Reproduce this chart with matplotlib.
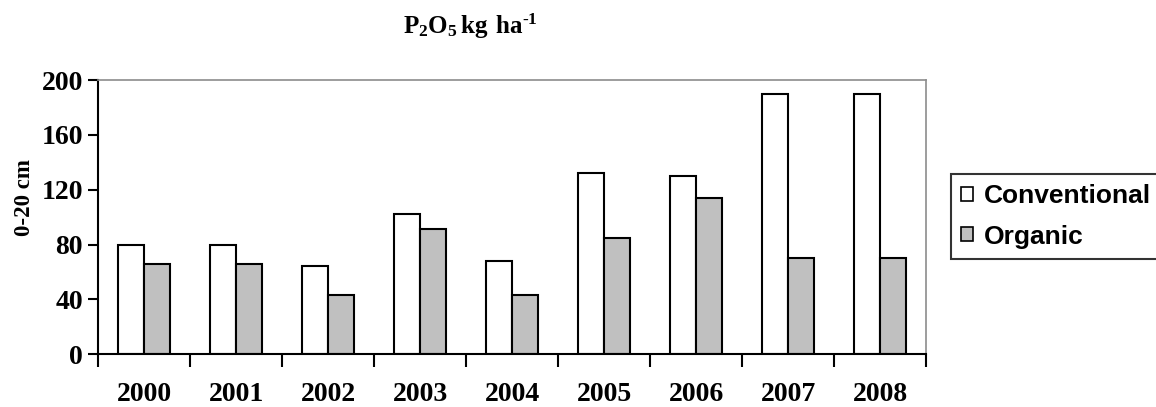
import numpy as np
import matplotlib.pyplot as plt

years = ["2000", "2001", "2002", "2003", "2004", "2005", "2006", "2007", "2008"]
conventional = [80, 80, 64, 102, 68, 132, 130, 190, 190]
organic = [66, 66, 43, 91, 43, 85, 114, 70, 70]
y_ticks = [0, 40, 80, 120, 160, 200]

plt.rcParams["mathtext.fontset"] = "custom"
plt.rcParams["mathtext.rm"] = "Liberation Serif:bold"
plt.rcParams["mathtext.bf"] = "Liberation Serif:bold"


def plot_chart():
    fig = plt.figure(figsize=(11.56, 4.07), dpi=100)
    ax = fig.add_axes([0.085, 0.13, 0.716, 0.673])

    x = np.arange(len(years))
    w = 0.283
    ax.bar(x - w / 2, conventional, w, color="white", edgecolor="black",
           linewidth=1.5, label="Conventional")
    ax.bar(x + w / 2, organic, w, color="#c0c0c0", edgecolor="black",
           linewidth=1.5, label="Organic")

    ax.set_xlim(-0.5, len(years) - 0.5)
    ax.set_ylim(0, 200)

    # year labels sit between the category boundary ticks
    ax.set_xticks(np.arange(len(years) + 1) - 0.5)
    ax.set_xticklabels([])
    ax.set_xticks(x, minor=True)
    ax.set_xticklabels(years, minor=True, family="Liberation Serif",
                       fontweight="bold", fontsize=20)
    ax.tick_params(axis="x", which="major", direction="out", length=9, width=1.5)
    ax.tick_params(axis="x", which="minor", length=0, pad=20)

    ax.set_yticks(y_ticks)
    ax.set_yticklabels([str(v) for v in y_ticks], family="Liberation Serif",
                       fontweight="bold", fontsize=20)
    ax.tick_params(axis="y", direction="out", length=7, width=1.5, pad=4)

    ax.set_ylabel("0-20 cm", family="Liberation Serif", fontweight="bold",
                  fontsize=16.5)
    ax.yaxis.set_label_coords(-0.077, 0.573)

    for side in ["left", "bottom"]:
        ax.spines[side].set_linewidth(1.5)
        ax.spines[side].set_color("black")
    for side in ["top", "right"]:
        ax.spines[side].set_linewidth(1.2)
        ax.spines[side].set_color("#8c8c8c")

    fig.text(0.407, 0.935, "$\\mathrm{P_2O_5\\,kg\\ ha^{\u20101}}$", ha="center",
             va="center", fontsize=18)

    leg = fig.legend(loc="upper left", bbox_to_anchor=(0.823, 0.572),
                     borderaxespad=0, frameon=True, fancybox=False,
                     prop={"family": "Liberation Sans", "weight": "bold", "size": 19},
                     handlelength=0.45, handleheight=0.45, handletextpad=0.42,
                     labelspacing=0.62, borderpad=0.38)
    leg.get_frame().set_edgecolor("black")
    leg.get_frame().set_linewidth(1.5)
    for h in leg.legend_handles:
        h.set_linewidth(1.2)

    fig.savefig("out.png", dpi=100)


def main():
    plot_chart()


if __name__ == "__main__":
    main()
